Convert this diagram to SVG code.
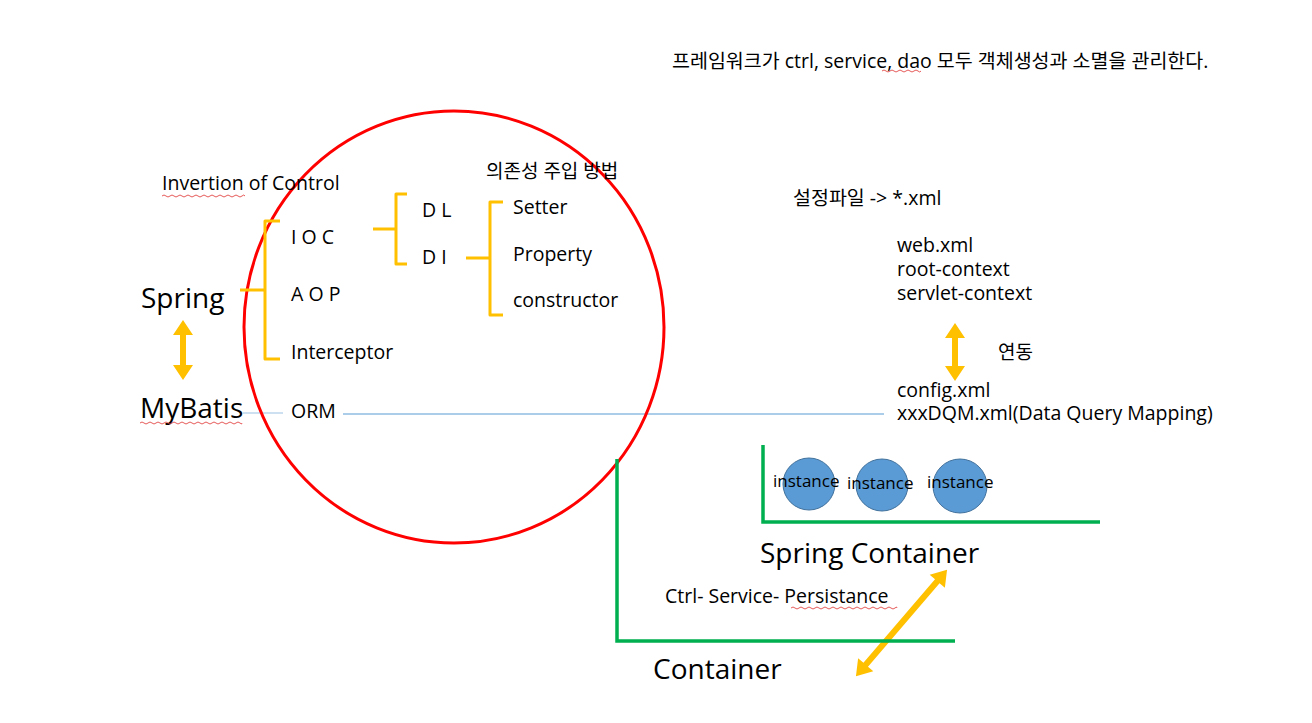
<svg xmlns="http://www.w3.org/2000/svg" width="1312" height="723" viewBox="0 0 1312 723">
<style>
text{font-family:"Open Sans","Noto Sans CJK KR",sans-serif;fill:#000}
.m{font-size:19.5px}
.k{font-size:19px}
.t{font-size:19.5px}
.l{font-size:28px}
.s{font-size:17px}
.br{fill:none;stroke:#FFC000;stroke-width:3;stroke-linejoin:round}
.gr{fill:none;stroke:#00B050;stroke-width:3.5}
.bl{stroke:#5B9BD5;stroke-width:1.2}
.ar{fill:#FFC000}
.wv{fill:none;stroke:#E03030;stroke-width:0.8}
.inst{fill:#5B9BD5;stroke:#41719C;stroke-width:1}
</style>
<rect width="1312" height="723" fill="#fff"/>
<g id="connectors">
<line class="bl" x1="243" y1="413" x2="283" y2="413" stroke-opacity="0.6"/>
<line class="bl" x1="343" y1="414" x2="884" y2="414"/>
<polygon class="ar" points="183,320 193,335 186,335 186,365 193,365 183,380 173,365 180,365 180,335 173,335"/>
<polygon class="ar" points="955,323 965,338 958,338 958,366 965,366 955,381 945,366 952,366 952,338 945,338"/>
<g transform="translate(901.5,623) rotate(40.6)">
<polygon class="ar" points="0,-70 10,-55 3,-55 3,55 10,55 0,70 -10,55 -3,55 -3,-55 -10,-55"/>
</g>
</g>
<g id="circle"><ellipse cx="454" cy="327" rx="210" ry="216" fill="none" stroke="#FF0000" stroke-width="3"/></g>
<g id="brace-spring"><path class="br" d="M280,221 L265,221 L265,290 L240,290 M265,290 L265,359 L280,359"/></g>
<g id="brace-ioc"><path class="br" d="M407,194 L396,194 L396,229 L373,229 M396,229 L396,264 L407,264"/></g>
<g id="brace-di"><path class="br" d="M503,202 L490,202 L490,258 L466,258 M490,258 L490,315 L503,315"/></g>
<g id="title"><text class="t" x="672" y="68">프레임워크가 ctrl, service, dao 모두 객체생성과 소멸을 관리한다.</text>
<path class="wv" d="M882,71 q2,-2 4,0 t4,0 t4,0 t4,0 t4,0 t4,0 t4,0 t4,0 t4,0 t3,0"/></g>
<g id="ioc-label"><text class="m" x="162" y="190">Invertion of Control</text>
<path class="wv" d="M162,196 q2,-2 4,0 t4,0 t4,0 t4,0 t4,0 t4,0 t4,0 t4,0 t4,0 t4,0 t4,0 t4,0 t4,0 t4,0 t4,0 t4,0 t4,0 t4,0 t4,0 t4,0 t3,0"/></g>
<g id="spring"><text class="l" x="141" y="308">Spring</text></g>
<g id="mybatis"><text class="l" x="140" y="418">MyBatis</text>
<path class="wv" d="M140,423 q2,-2 4,0 t4,0 t4,0 t4,0 t4,0 t4,0 t4,0 t4,0 t4,0 t4,0 t4,0 t4,0 t4,0 t4,0 t4,0 t4,0 t4,0 t4,0 t4,0 t4,0 t4,0 t4,0 t4,0 t4,0 t4,0 t2,0"/></g>
<g id="ioc"><text class="m" x="291" y="244">I O C</text></g>
<g id="aop"><text class="m" x="291" y="301">A O P</text></g>
<g id="interceptor"><text class="m" x="291" y="359">Interceptor</text></g>
<g id="orm"><text class="m" x="291" y="418">ORM</text></g>
<g id="di-method"><text class="k" x="486" y="178">의존성 주입 방법</text></g>
<g id="dl"><text class="m" x="422" y="217">D L</text></g>
<g id="di"><text class="m" x="422" y="264">D I</text></g>
<g id="setter"><text class="m" x="513" y="214">Setter</text></g>
<g id="property"><text class="m" x="513" y="261">Property</text></g>
<g id="constructor"><text class="m" x="513" y="307">constructor</text></g>
<g id="config-files"><text class="m" x="793" y="205">설정파일 -&gt; *.xml</text></g>
<g id="spring-xml"><text class="m" x="897" y="252">web.xml</text><text class="m" x="897" y="276">root-context</text><text class="m" x="897" y="300">servlet-context</text></g>
<g id="link"><text class="k" x="998" y="359">연동</text></g>
<g id="mybatis-xml"><text class="m" x="897" y="397">config.xml</text><text class="m" x="897" y="420">xxxDQM.xml(Data Query Mapping)</text></g>
<g id="spring-container"><path class="gr" d="M763,445 L763,522 L1100,522"/><text class="l" x="760" y="563">Spring Container</text></g>
<g id="instance1"><circle class="inst" cx="809" cy="484" r="26"/><text class="s" x="773" y="487">instance</text></g>
<g id="instance2"><circle class="inst" cx="882" cy="485" r="26"/><text class="s" x="847" y="489">instance</text></g>
<g id="instance3"><circle class="inst" cx="960" cy="486" r="27"/><text class="s" x="927" y="488">instance</text></g>
<g id="container"><path class="gr" d="M617,459 L617,641 L955,641"/><text class="l" x="653" y="679">Container</text></g>
<g id="layers"><text class="m" x="665" y="603">Ctrl- Service- Persistance</text>
<path class="wv" d="M791,608 q2,-2 4,0 t4,0 t4,0 t4,0 t4,0 t4,0 t4,0 t4,0 t4,0 t4,0 t4,0 t4,0 t4,0 t4,0 t4,0 t4,0 t4,0 t4,0 t4,0 t4,0 t4,0 t4,0 t4,0 t4,0 t4,0 t4,0 t2,0"/></g>
</svg>
